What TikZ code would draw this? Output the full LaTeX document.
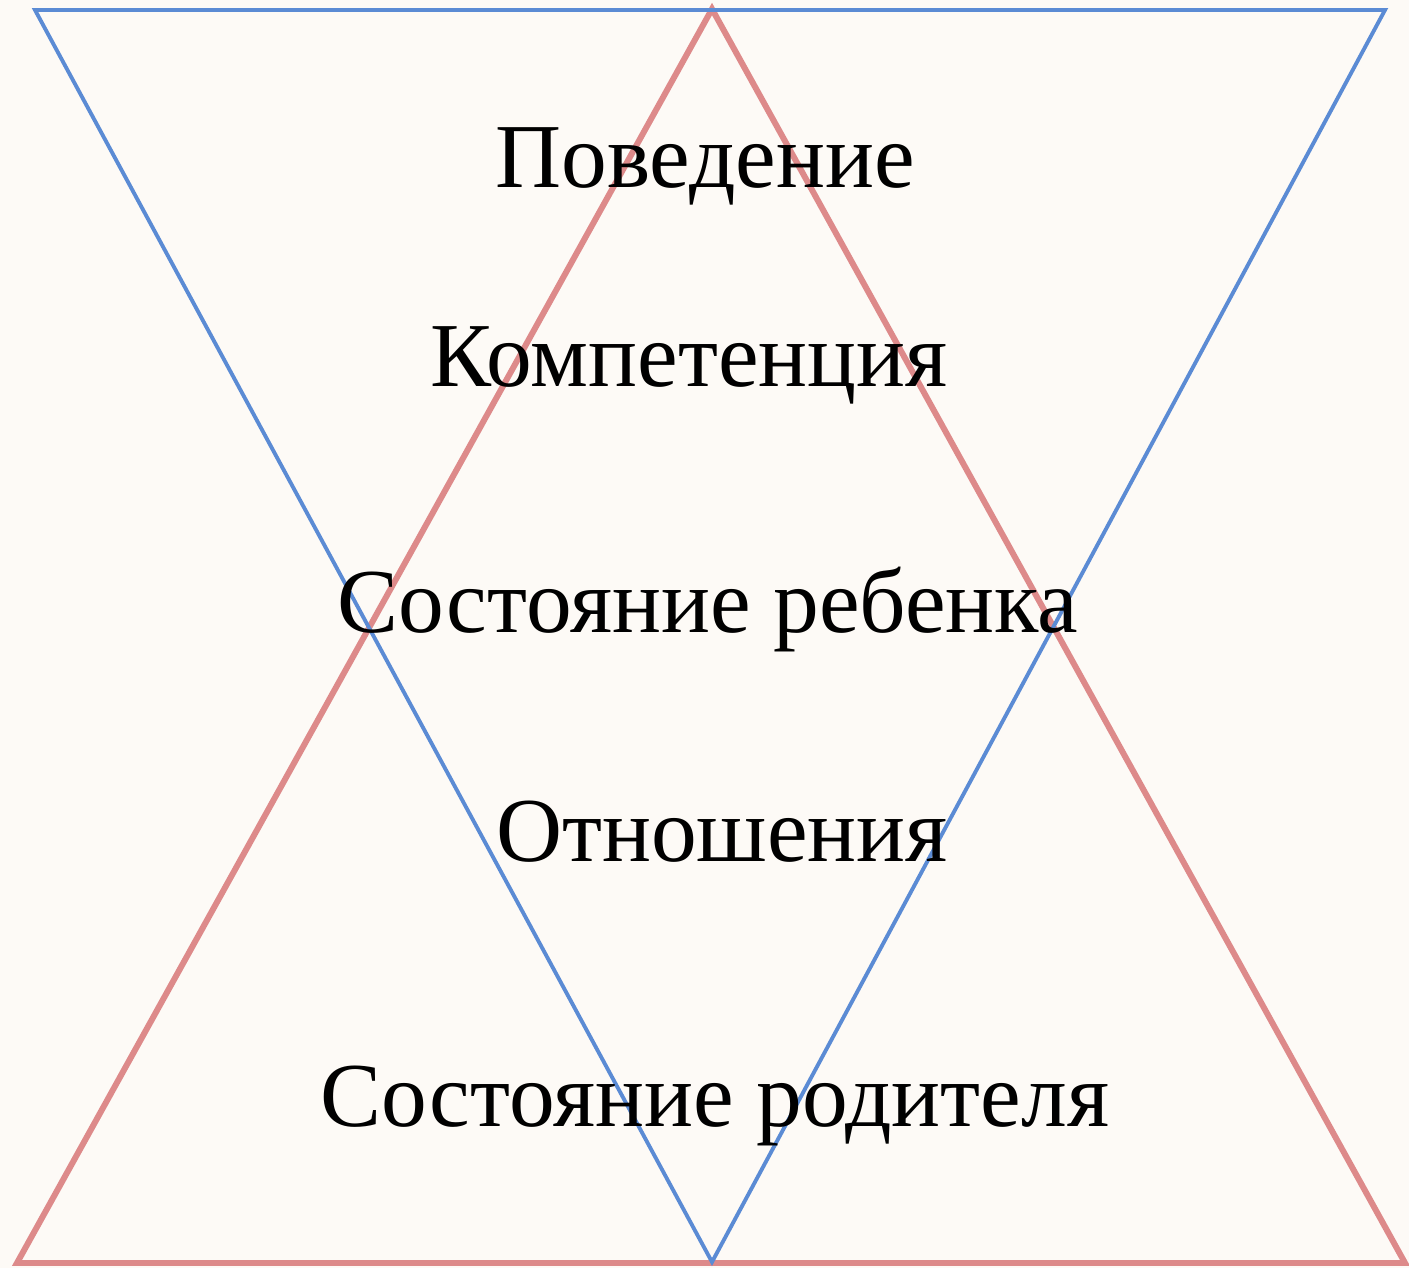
\documentclass[tikz,border=0pt]{standalone}
\usepackage{fontspec}
\setmainfont{Liberation Serif}
\usepackage{xcolor}
\usetikzlibrary{positioning}
\definecolor{bluetri}{RGB}{91,139,212}
\definecolor{redtri}{RGB}{221,138,138}
\definecolor{paper}{RGB}{253,250,246}
\tikzset{label/.style={anchor=base,inner sep=0pt,font=\fontsize{26}{29}\selectfont}}

\begin{document}
\begin{tikzpicture}[x=0.01cm,y=-0.01cm,line join=miter]
\fill[paper](0,0)rectangle(1409,1268);
\useasboundingbox(0,0)rectangle(1409,1268);
\draw[redtri,line width=1.7pt](712,9)--(1405,1263)--(17,1263)--cycle;
\draw[bluetri,line width=1.1pt](35,10)--(1385,10)--(712,1262)--cycle;
\node[label](beh) at (705,188) {Поведение};
\node[label](comp) at (689,387) {Компетенция};
\node[label](child) at (708,633) {Состояние ребенка};
\node[label](rel) at (722,862) {Отношения};
\node[label](par) at (715,1127) {Состояние родителя};
\end{tikzpicture}
\end{document}
